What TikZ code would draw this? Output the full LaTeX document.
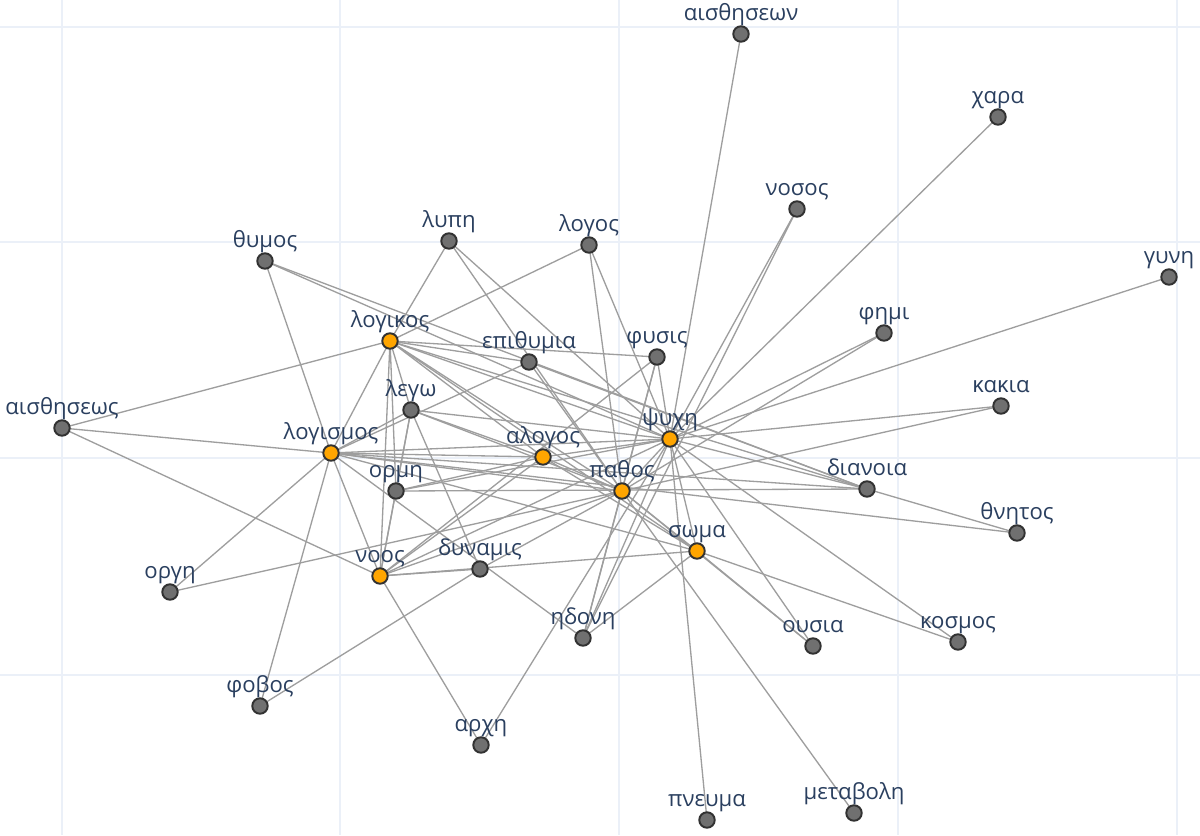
\documentclass[tikz,border=0pt]{standalone}
\usepackage{fontspec}
\setmainfont{Open Sans}
\pgfdeclarelayer{gridl}
\pgfdeclarelayer{edgel}
\pgfsetlayers{gridl,edgel,main}
\definecolor{gridc}{RGB}{235,240,248}
\definecolor{edgec}{RGB}{158,158,158}
\definecolor{gnodec}{RGB}{112,112,112}
\definecolor{onodec}{RGB}{255,165,0}
\definecolor{ncirc}{RGB}{50,50,50}
\definecolor{lblc}{RGB}{42,63,95}
\tikzset{
 gn/.style={circle, draw=ncirc, line width=1.1pt, fill=gnodec, minimum size=8.8pt, inner sep=0pt},
 on/.style={gn, fill=onodec},
 lbl/.style={text=lblc, font=\fontsize{12.6}{14}\selectfont, inner sep=0pt, anchor=base},
 edge/.style={draw=edgec, line width=0.75pt},
 gridline/.style={draw=gridc, line width=0.9pt}
}
\newcommand\gnd[5]{\node[#1] (#2) at (#3,#4) {}; \node[lbl] (#2-l) at ([yshift=7.6pt]#2.center) {#5};}
\begin{document}
\begin{tikzpicture}[x=0.02cm,y=-0.02cm]
\useasboundingbox (0,0) rectangle (1200,835);
\begin{pgfonlayer}{gridl}
\fill[white] (0,0) rectangle (1200,835);
\foreach \gx in {62,340,619,898,1177} \draw[gridline] (\gx,0) -- (\gx,835);
\foreach \gy in {27,242,458,675} \draw[gridline] (0,\gy) -- (1200,\gy);
\end{pgfonlayer}
\gnd{gn}{aisthn}{741}{34}{αισθησεων}
\gnd{gn}{chara}{998}{117}{χαρα}
\gnd{gn}{nosos}{797}{209}{νοσος}
\gnd{gn}{gyne}{1169}{277}{γυνη}
\gnd{gn}{phemi}{884}{333}{φημι}
\gnd{gn}{kakia}{1001}{406}{κακια}
\gnd{gn}{dianoia}{867}{489}{διανοια}
\gnd{gn}{thnetos}{1017}{533}{θνητος}
\gnd{gn}{kosmos}{958}{642}{κοσμος}
\gnd{gn}{ousia}{813}{646}{ουσια}
\gnd{gn}{metabole}{854}{813}{μεταβολη}
\gnd{gn}{pneuma}{707}{820}{πνευμα}
\gnd{on}{soma}{697}{551}{σωμα}
\gnd{on}{psyche}{670}{439}{ψυχη}
\gnd{on}{pathos}{622}{491}{παθος}
\gnd{gn}{hedone}{583}{638}{ηδονη}
\gnd{gn}{arche}{481}{745}{αρχη}
\gnd{gn}{dynamis}{480}{569}{δυναμις}
\gnd{on}{noos}{380}{576}{νοος}
\gnd{gn}{horme}{396}{491}{ορμη}
\gnd{on}{alogos}{543}{457}{αλογος}
\gnd{gn}{physis}{657}{357}{φυσις}
\gnd{gn}{epithymia}{529}{362}{επιθυμια}
\gnd{gn}{logos}{589}{245}{λογος}
\gnd{gn}{lype}{449}{241}{λυπη}
\gnd{gn}{thymos}{265}{261}{θυμος}
\gnd{on}{logikos}{390}{341}{λογικος}
\gnd{gn}{lego}{411}{410}{λεγω}
\gnd{on}{logismos}{331}{453}{λογισμος}
\gnd{gn}{aisths}{62}{428}{αισθησεως}
\gnd{gn}{orge}{170}{592}{οργη}
\gnd{gn}{phobos}{260}{706}{φοβος}
\begin{pgfonlayer}{edgel}
\foreach \a/\b in {aisthn/psyche, chara/psyche, nosos/psyche, nosos/hedone, gyne/psyche,
  phemi/psyche, phemi/pathos, kakia/psyche, kakia/pathos, dianoia/psyche, dianoia/horme,
  dianoia/logismos, dianoia/logikos, dianoia/thnetos, dianoia/epithymia, thnetos/logismos,
  kosmos/soma, kosmos/psyche, ousia/psyche, ousia/soma, ousia/pathos, metabole/pathos,
  pneuma/psyche, soma/psyche, soma/pathos, soma/hedone, soma/noos, soma/logikos, soma/logismos,
  psyche/pathos, psyche/alogos, psyche/physis, psyche/logos, psyche/lype, psyche/thymos,
  psyche/logikos, psyche/lego, psyche/logismos, psyche/horme, psyche/noos, psyche/arche,
  psyche/hedone, thymos/dianoia, thymos/logismos, lype/logikos, lype/pathos, logos/logikos,
  logos/pathos, epithymia/logikos, epithymia/pathos, epithymia/logismos, physis/logikos,
  physis/pathos, physis/noos, physis/hedone, logikos/aisths, logikos/lego, logikos/logismos,
  logikos/horme, logikos/noos, logikos/alogos, logikos/pathos, lego/logismos, lego/horme,
  lego/noos, lego/dynamis, lego/alogos, lego/pathos, logismos/aisths, logismos/orge,
  logismos/phobos, logismos/noos, logismos/alogos, logismos/pathos, logismos/hedone,
  aisths/noos, orge/pathos, phobos/dynamis, horme/noos, horme/alogos, noos/dynamis,
  noos/arche, noos/alogos, noos/pathos, dynamis/pathos, alogos/pathos, alogos/soma,
  pathos/hedone}
  \draw[edge] (\a.center) -- (\b.center);
\end{pgfonlayer}
\end{tikzpicture}
\end{document}
